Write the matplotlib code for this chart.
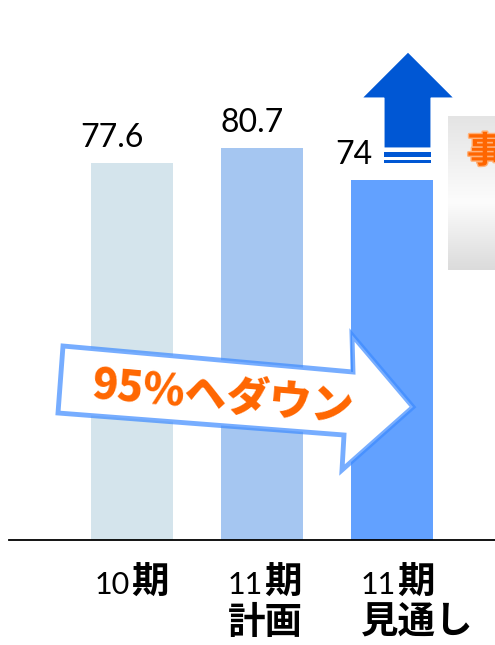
import matplotlib
matplotlib.use("Agg")
import matplotlib.pyplot as plt
import numpy as np
from matplotlib.patches import Polygon, Rectangle
from matplotlib.offsetbox import TextArea, HPacker, VPacker, AnnotationBbox
import matplotlib.patheffects as pe

# ---- data ----
categories = [["10期"], ["11期", "計画"], ["11期", "見通し"]]
values = [77.6, 80.7, 74]
value_labels = ["77.6", "80.7", "74"]
bar_colors = ["#D4E4EC", "#A5C6F1", "#62A1FF"]
banner_text = "95%ヘダウン"
side_text = "事業"

W, H = 495, 645
DPI = 100
fig = plt.figure(figsize=(W / DPI, H / DPI), dpi=DPI)
fig.patch.set_facecolor("white")

LATIN = "Lato"
CJK = "Noto Sans CJK JP"


def fx(px):
    return px / W


def fy(py):
    return 1 - py / H


def pt(px):
    return px * 72 / DPI


# main axes: baseline at 539.5 px from top
base_px = 539.5
ax = fig.add_axes([fx(9), fy(base_px), fx(495 - 9), base_px / H])
ax.set_xlim(-0.946, 2.792)
ax.set_ylim(0, base_px / 4.852)
for s in ("top", "left", "right"):
    ax.spines[s].set_visible(False)
ax.spines["bottom"].set_linewidth(1.3)
ax.spines["bottom"].set_color("black")
ax.set_xticks([])
ax.set_yticks([])
ax.patch.set_alpha(0)

x = np.arange(len(values))
bw = 82 / 130
ax.bar(x, values, width=bw, color=bar_colors, zorder=2)

# value labels
label_dx = [-20, -10, -38]
for xi, v, lab, dx in zip(x, values, value_labels, label_dx):
    ax.annotate(lab, xy=(xi, v), xytext=(pt(dx), pt(25)),
                textcoords="offset points", ha="center", va="center",
                fontsize=23, family=LATIN, color="black", zorder=5)


# category labels: latin digits regular, kanji bold
def runs(s):
    out, cur, kind = [], "", None
    for ch in s:
        k = ch.isascii()
        if kind is None or k == kind:
            cur += ch
        else:
            out.append((cur, kind))
            cur = ch
        kind = k
    if cur:
        out.append((cur, kind))
    return out


label_left_dx = [4, 7, 10]
for xi, lines, dx in zip(x, categories, label_left_dx):
    rows = []
    for line in lines:
        parts = []
        for txt, is_latin in runs(line):
            if is_latin:
                props = dict(family=LATIN, size=22, weight="normal", color="black")
            else:
                props = dict(family=CJK, size=27, weight="bold", color="black")
            parts.append(TextArea(txt, textprops=props))
        rows.append(HPacker(children=parts, align="baseline", pad=0, sep=1))
    box = VPacker(children=rows, align="left", pad=0, sep=1)
    ab = AnnotationBbox(box, (xi - bw / 2, 0), xycoords="data",
                        xybox=(pt(dx), -pt(23)), boxcoords="offset points",
                        box_alignment=(0, 1), frameon=False, pad=0,
                        annotation_clip=False)
    ax.add_artist(ab)

# upward arrow above the last bar
tf = fig.transFigure
up_pts = [(408, 52), (454, 98), (431, 98), (431, 148), (384, 148), (384, 98), (362, 98)]
up_color = "#0057D4"
ax.add_patch(Polygon([(fx(a), fy(b)) for a, b in up_pts], closed=True,
                     transform=tf, facecolor=up_color, edgecolor="white",
                     linewidth=0.8, clip_on=False, zorder=6))
for y0, y1 in [(152, 157), (160, 163)]:
    ax.add_patch(Rectangle((fx(384), fy(y1)), fx(431) - fx(384), fy(y0) - fy(y1),
                           transform=tf, facecolor=up_color, edgecolor="none",
                           clip_on=False, zorder=6))

# block arrow across the bars
blk_pts = [(63, 346), (353, 372), (352, 335), (413, 407), (342, 470), (344, 435), (58, 413)]
ax.add_patch(Polygon([(fx(a), fy(b)) for a, b in blk_pts], closed=True,
                     transform=tf, facecolor="white",
                     edgecolor=(0.24, 0.545, 1.0, 0.7), linewidth=3.5,
                     joinstyle="miter", clip_on=False, zorder=7))
fig.text(fx(223), fy(397), banner_text, ha="center", va="center",
         rotation=-5.1, rotation_mode="anchor", family=CJK, weight="heavy",
         fontsize=30.5, color="#FF6600", zorder=8)

# gradient panel at the right edge
gax = fig.add_axes([fx(448), fy(270), fx(495 - 448 + 10), (270 - 116) / H])
t = np.linspace(0, 1, 200)
g = np.interp(t, [0, 0.56, 1], [228, 252, 219]) / 255
img = np.repeat(g[:, None, None], 3, axis=2)
gax.imshow(img, aspect="auto", extent=[0, 1, 0, 1], origin="upper")
gax.set_axis_off()
fig.text(fx(467), fy(152), side_text, ha="left", va="center",
         family=CJK, weight="bold", fontsize=26, color="#FF6600",
         path_effects=[pe.withStroke(linewidth=2, foreground="#FFB27A")])

fig.savefig("out.png", dpi=DPI, facecolor="white")
